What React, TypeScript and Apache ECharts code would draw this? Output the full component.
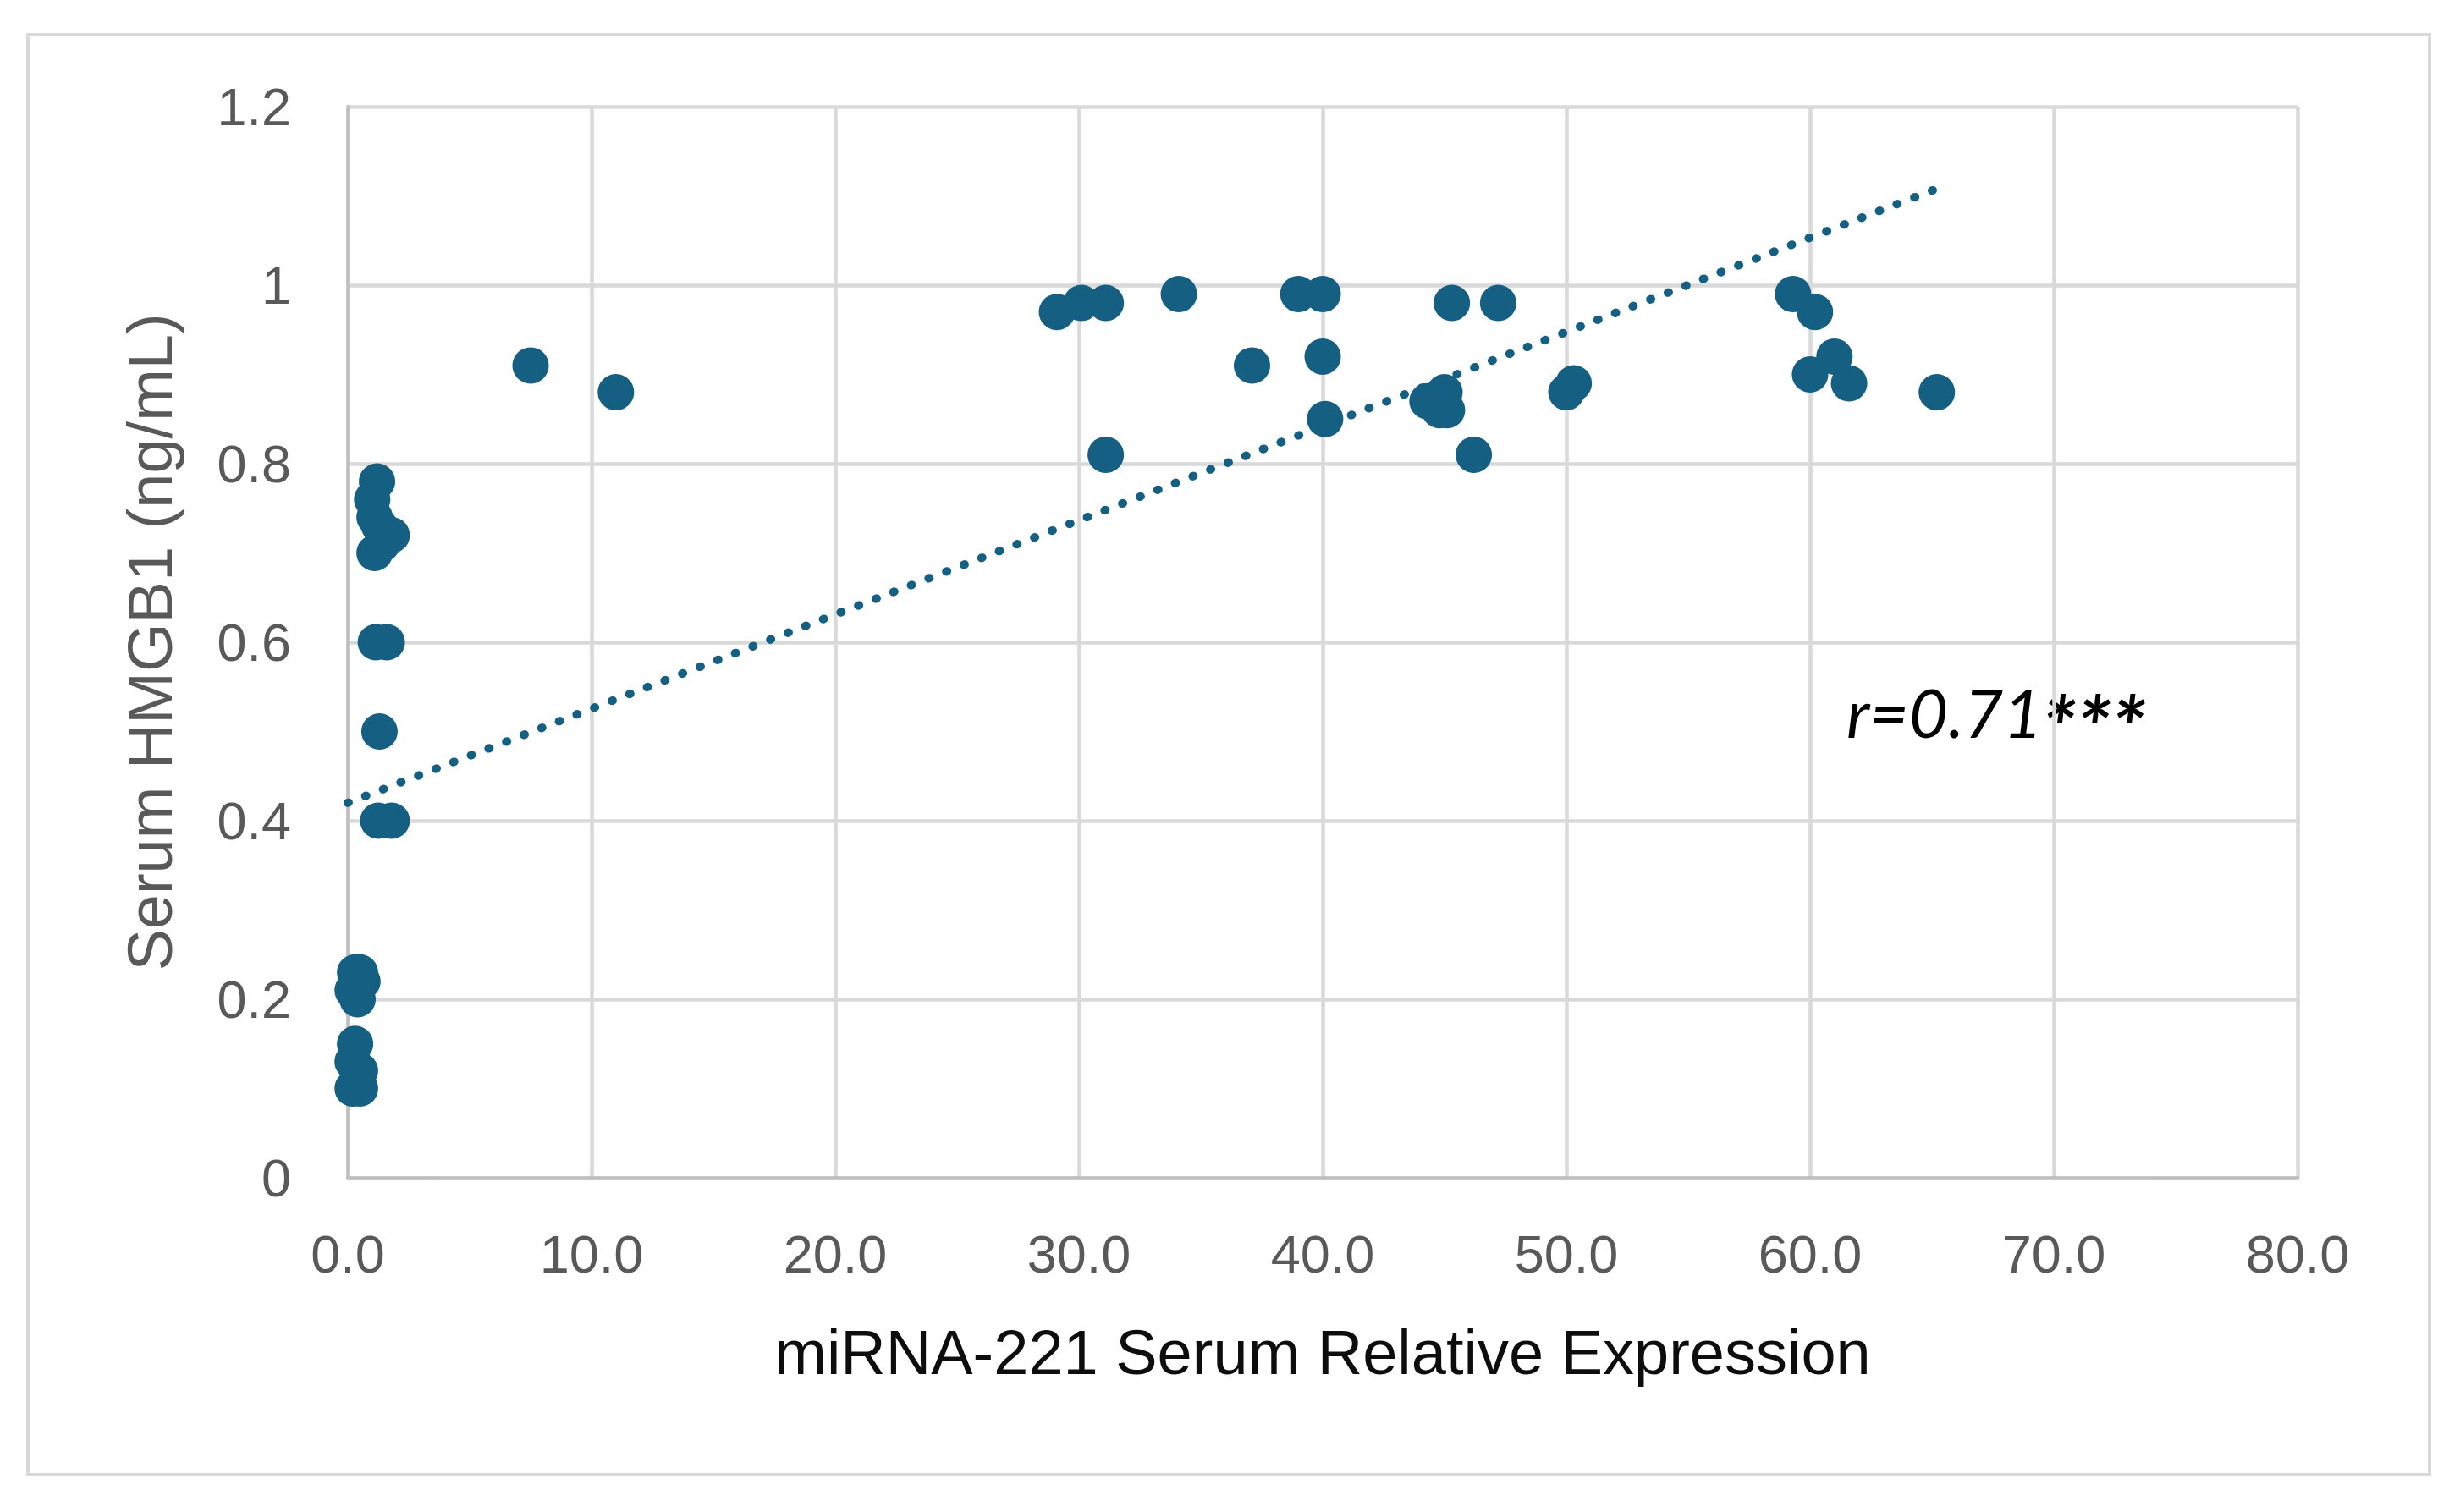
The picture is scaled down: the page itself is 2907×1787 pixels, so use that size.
import React, { useEffect, useRef } from "react";
import * as echarts from "echarts";

const xValues = [
  1.2, 1.0, 1.1, 1.3, 1.8, 1.1, 1.4,
  1.15, 1.6, 1.3, 1.25, 1.8,
  0.3, 0.5, 0.2, 0.4, 0.6, 0.3, 0.2, 0.5, 0.2, 0.5,
  7.5, 11.0,
  29.1, 30.1, 31.1, 31.1, 34.1, 37.1, 39.0, 40.0, 40.0, 40.1,
  44.3, 45.0, 44.8, 45.1, 45.3, 46.2, 47.2, 50.0, 50.3,
  59.3, 60.2, 60.0, 61.0, 61.6, 65.2,
];
const yValues = [
  0.78, 0.76, 0.74, 0.73, 0.72, 0.70, 0.71,
  0.60, 0.60, 0.50, 0.40, 0.40,
  0.23, 0.23, 0.21, 0.20, 0.22, 0.15, 0.13, 0.12, 0.10, 0.10,
  0.91, 0.88,
  0.97, 0.98, 0.98, 0.81, 0.99, 0.91, 0.99, 0.99, 0.92, 0.85,
  0.87, 0.88, 0.86, 0.86, 0.98, 0.81, 0.98, 0.88, 0.89,
  0.99, 0.97, 0.90, 0.92, 0.89, 0.88,
];
const trendX = [0, 65.1];
const trendY = [0.42, 1.107];
const xTicks = { min: 0, max: 80, step: 10 };
const yTicks = { min: 0, max: 1.2, step: 0.2 };
const xTitle = "miRNA-221 Serum Relative Expression";
const yTitle = "Serum HMGB1 (ng/mL)";
const annotationMain = "r=0.71";
const annotationStars = "***";

const W = 2907;
const H = 1787;
const BLUE = "#156082";

export default function App() {
  const ref = useRef<HTMLDivElement>(null);
  useEffect(() => {
    const chart = echarts.init(ref.current!, null, { renderer: "svg" });
    const points = xValues.map((x, i) => [x, yValues[i]]);
    const trend = trendX.map((x, i) => [x, trendY[i]]);
    chart.setOption({
      animation: false,
      backgroundColor: "#ffffff",
      grid: { left: 411, right: W - 2715, top: 126, bottom: H - 1392, containLabel: false },
      xAxis: {
        type: "value",
        min: xTicks.min,
        max: xTicks.max,
        interval: xTicks.step,
        name: xTitle,
        nameLocation: "middle",
        nameGap: 169,
        nameTextStyle: { fontFamily: "Liberation Sans", fontSize: 74, color: "#0d0d0d" },
        axisLine: { show: true, lineStyle: { color: "#bfbfbf", width: 4.5 } },
        axisTick: { show: false },
        axisLabel: {
          margin: 58,
          fontFamily: "Liberation Sans",
          fontSize: 63,
          color: "#595959",
          formatter: (v: number) => v.toFixed(1),
        },
        splitLine: { show: true, lineStyle: { color: "#d9d9d9", width: 4.5 } },
      },
      yAxis: {
        type: "value",
        min: yTicks.min,
        max: yTicks.max,
        interval: yTicks.step,
        name: yTitle,
        nameLocation: "middle",
        nameGap: 197,
        nameTextStyle: { fontFamily: "Liberation Sans", fontSize: 74, color: "#595959" },
        axisLine: { show: true, lineStyle: { color: "#bfbfbf", width: 4.5 } },
        axisTick: { show: false },
        axisLabel: {
          margin: 67,
          fontFamily: "Liberation Sans",
          fontSize: 63,
          color: "#595959",
          formatter: (v: number) => String(Math.round(v * 10) / 10),
        },
        splitLine: { show: true, lineStyle: { color: "#d9d9d9", width: 4.5 } },
      },
      graphic: [
        {
          type: "rect",
          shape: { x: 33, y: 41, width: 2838, height: 1702 },
          style: { fill: "none", stroke: "#d9d9d9", lineWidth: 4 },
          silent: true,
          z: -10,
        },
        {
          type: "text",
          left: 2182,
          top: 801,
          style: {
            text: annotationMain,
            fontFamily: "Lato",
            fontStyle: "italic",
            fontSize: 80,
            fill: "#000000",
          },
        },
        {
          type: "text",
          left: 2412,
          top: 806,
          style: {
            text: annotationStars,
            fontFamily: "Lato",
            fontStyle: "italic",
            fontWeight: "bold",
            fontSize: 104,
            fill: "#000000",
          },
        },
      ],
      series: [
        {
          type: "line",
          data: trend,
          showSymbol: false,
          symbol: "none",
          lineStyle: { color: BLUE, width: 10, type: [1, 21.3], cap: "round" },
          z: 3,
        },
        {
          type: "scatter",
          data: points,
          symbol: "circle",
          symbolSize: 43,
          itemStyle: { color: BLUE, opacity: 1 },
          z: 4,
        },
      ],
    });
    return () => chart.dispose();
  }, []);
  return (
    <div
      ref={ref}
      style={{ position: "fixed", left: 0, top: 0, width: W, height: H, background: "#fff" }}
    />
  );
}
